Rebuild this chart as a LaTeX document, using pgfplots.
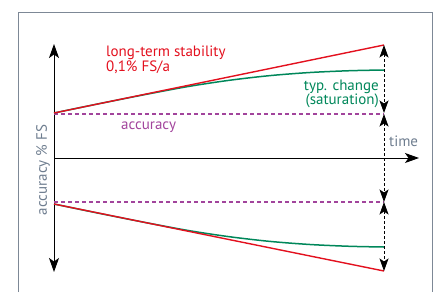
\documentclass[border=0pt]{standalone}
\usepackage{pgfplots}
\pgfplotsset{compat=1.18}
\usetikzlibrary{arrows.meta}
\usepackage{fontspec}
\setmainfont{PT Sans}
\definecolor{cred}{HTML}{E3101E}
\definecolor{cgreen}{HTML}{00875A}
\definecolor{cpurple}{HTML}{A2449C}
\definecolor{cgray}{HTML}{6E7D8F}
\definecolor{cframe}{HTML}{7D8896}
\begin{document}
\begin{tikzpicture}[>={Stealth[length=12.5pt,width=9pt,inset=3pt]}]
\begin{axis}[
  width=441pt, height=292pt, scale only axis,
  xmin=0, xmax=441, ymin=0, ymax=292, y dir=reverse,
  hide axis, clip=false,
]
% invisible corners to keep the full picture area
\addplot[draw=none] coordinates {(0,0) (441,292)};
% frame
\addplot[cframe, line width=1pt] coordinates {(18,292) (18,12) (432,12) (432,292)};
% axes
\addplot[black, line width=1pt, {Stealth[length=14pt,width=10pt,inset=3.5pt]}-{Stealth[length=14pt,width=10pt,inset=3.5pt]}] coordinates {(54,44) (54,272)};
\addplot[black, line width=1pt, -{Stealth[length=14pt,width=10pt,inset=3.5pt]}] coordinates {(54,158) (419,158)};
% accuracy dashed
\addplot[cpurple, line width=1.3pt, dash pattern=on 4pt off 3pt] coordinates {(54,114) (384,114)};
\addplot[cpurple, line width=1.3pt, dash pattern=on 4pt off 3pt] coordinates {(54,202) (384,202)};
% green typical change
\addplot[cgreen, line width=1.5pt, smooth] coordinates {(54,113) (100,103.5) (150,93.6) (190,86.2) (230,80.2) (270,75.6) (310,72.5) (350,70.7) (384,70)};
\addplot[cgreen, line width=1.5pt, smooth] coordinates {(54,204) (100,213.5) (150,223.4) (190,230.8) (230,236.8) (270,241.4) (310,244.5) (350,246.3) (384,247)};
% red long-term stability
\addplot[cred, line width=1.4pt] coordinates {(54,113) (384,45)};
\addplot[cred, line width=1.4pt] coordinates {(54,204) (384,271)};
% dashed vertical arrows
\addplot[black, line width=0.8pt, dash pattern=on 3pt off 2pt, <->] coordinates {(384,45) (384,113)};
\addplot[black, line width=0.8pt, dash pattern=on 3pt off 2pt, <->] coordinates {(384,114) (384,202)};
\addplot[black, line width=0.8pt, dash pattern=on 3pt off 2pt, <->] coordinates {(384,202) (384,271)};
% texts
\node[cred, anchor=west, align=left, font=\fontsize{15}{15}\selectfont, inner sep=0pt] at (axis cs:106,59.5) {long-term stability\\0,1\% FS/a};
\node[cgreen, anchor=east, align=right, font=\fontsize{15}{14.5}\selectfont, inner sep=0pt] at (axis cs:379,94) {typ. change\\(saturation)};
\node[cpurple, anchor=west, font=\fontsize{15}{15}\selectfont, inner sep=0pt] at (axis cs:121,127) {accuracy};
\node[cgray, anchor=west, font=\fontsize{15}{15}\selectfont, inner sep=0pt] at (axis cs:389,141) {time};
\node[cgray, rotate=90, font=\fontsize{15}{15}\selectfont, inner sep=0pt] at (axis cs:43,170) {accuracy \% FS};
\end{axis}
\end{tikzpicture}
\end{document}
